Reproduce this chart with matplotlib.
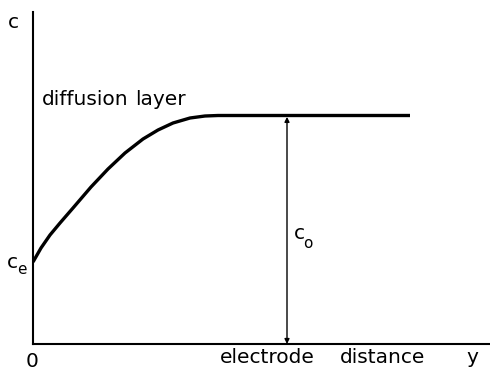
import matplotlib.pyplot as plt

# concentration profile near the electrode (arbitrary units)
distance = [0, 8, 17, 27, 40, 58, 75, 92, 110, 125, 140, 157, 172, 185, 377]
conc = [82, 96, 109, 121, 136, 157, 175, 191, 205, 214, 221, 226, 228, 228.5, 228.5]
c_bulk = 228.5
arrow_x = 254


def main():
    fig = plt.figure(figsize=(4.9, 3.71), dpi=100)
    ax = fig.add_axes([33 / 490, 27 / 371, 457 / 490, 332 / 371])
    ax.set_xlim(0, 457)
    ax.set_ylim(0, 332)

    ax.plot(distance, conc, color='black', lw=2.4, solid_capstyle='butt',
            solid_joinstyle='round')
    ax.annotate('', xy=(arrow_x, 0), xytext=(arrow_x, c_bulk),
                arrowprops=dict(arrowstyle='<|-|>', color='black', lw=1,
                                mutation_scale=7, shrinkA=1, shrinkB=0))

    for side in ['top', 'right']:
        ax.spines[side].set_visible(False)
    for side in ['left', 'bottom']:
        ax.spines[side].set_linewidth(1.5)
    ax.set_xticks([])
    ax.set_yticks([])

    kw = dict(color='black', clip_on=False, fontsize=14.5, va='baseline')
    sub = dict(color='black', clip_on=False, fontsize=11, va='baseline')
    ax.text(-25, 316, 'c', ha='left', **kw)
    ax.text(-26, 76, 'c', ha='left', **kw)
    ax.text(-16, 70, 'e', ha='left', **sub)
    ax.text(-1, -23, '0', ha='center', **kw)
    ax.text(187, -19, 'electrode', ha='left', **kw)
    ax.text(307, -19, 'distance', ha='left', **kw)
    ax.text(439, -19, 'y', ha='center', **kw)
    ax.text(9, 239, 'diffusion', ha='left', **kw)
    ax.text(102, 239, 'layer', ha='left', **kw)
    ax.text(261, 105, 'c', ha='left', **kw)
    ax.text(270, 96, 'o', ha='left', **sub)

    plt.savefig('out.png', dpi=100)
    plt.close()


if __name__ == '__main__':
    main()
